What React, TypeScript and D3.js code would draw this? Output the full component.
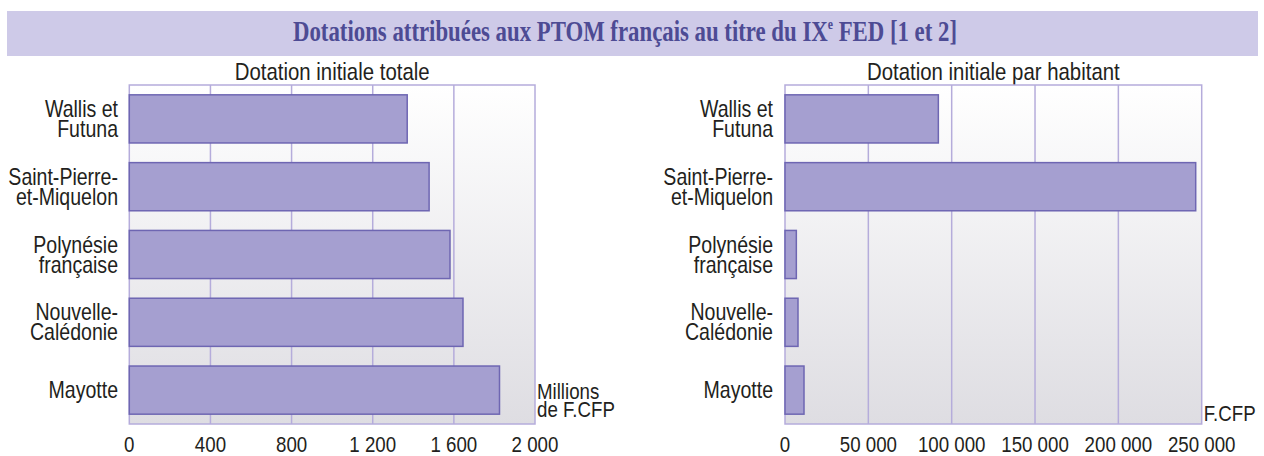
import React from 'react';
import * as d3 from 'd3';

const categories = ['Wallis et Futuna', 'Saint-Pierre-et-Miquelon', 'Polynésie française', 'Nouvelle-Calédonie', 'Mayotte'];
const categoryLines = [['Wallis et', 'Futuna'], ['Saint-Pierre-', 'et-Miquelon'], ['Polynésie', 'française'], ['Nouvelle-', 'Calédonie'], ['Mayotte']];
const totalValues = [1370, 1478, 1581, 1645, 1825]; // millions F.CFP
const perCapitaValues = [92000, 246400, 6800, 7800, 11400]; // F.CFP
const totalTicks = [0, 400, 800, 1200, 1600, 2000];
const perCapitaTicks = [0, 50000, 100000, 150000, 200000, 250000];

const W = 1264;
const H = 456;
const sans = '"Liberation Sans", Arial, sans-serif';
const squeeze = 0.85; // no Arial Narrow here, so squash Liberation Sans
const textColor = '#231f20';
const gridColor = '#b5acdb';
const barFill = '#a59fd0';
const barStroke = '#6e66b2';

const fmt = d3.formatLocale({ decimal: ',', thousands: ' ', grouping: [3], currency: ['', ''] }).format(',d');

// narrow text: lines drawn at (x, y) with line step
const NText: React.FC<{ x: number; y: number; lines: string[]; size: number; anchor?: string; step?: number }> =
  ({ x, y, lines, size, anchor = 'start', step = 20 }) => (
    <text transform={`translate(${x},${y}) scale(${squeeze},1)`} textAnchor={anchor} fontFamily={sans} fontSize={size} fill={textColor}>
      {lines.map((l, k) => <tspan key={k} x={0} y={k * step}>{l}</tspan>)}
    </text>
  );

interface PanelProps {
  id: string;
  x0: number;
  x1: number;
  values: number[];
  ticks: number[];
  subtitle: string;
  unit: string[];
  unitY: number;
  labelX: number;
}

const Panel: React.FC<PanelProps> = ({ id, x0, x1, values, ticks, subtitle, unit, unitY, labelX }) => {
  const top = 85;
  const bottom = 424;
  const x = d3.scaleLinear().domain([0, ticks[ticks.length - 1]]).range([x0, x1]);
  const y = d3.scaleBand<string>().domain(categories).range([top, bottom]).paddingInner(0.29).paddingOuter(0.145);
  return (
    <g>
      <defs>
        <linearGradient id={`bg-${id}`} x1="0" y1="0" x2="0" y2="1">
          <stop offset="0" stopColor="#ffffff" />
          <stop offset="1" stopColor="#dedde2" />
        </linearGradient>
      </defs>
      <NText x={(x0 + x1) / 2} y={80} lines={[subtitle]} size={24} anchor="middle" />
      <rect x={x0} y={top} width={x1 - x0} height={bottom - top} fill={`url(#bg-${id})`} stroke={gridColor} strokeWidth={1.5} />
      {ticks.slice(1, -1).map(t => (
        <line key={t} x1={x(t)} x2={x(t)} y1={top} y2={bottom} stroke={gridColor} strokeWidth={1.5} />
      ))}
      {categories.map((c, i) => (
        <rect key={c} x={x(0)} y={y(c)} width={x(values[i]) - x(0)} height={y.bandwidth()}
          fill={barFill} stroke={barStroke} strokeWidth={1.5} />
      ))}
      {categories.map((c, i) => {
        const cy = (y(c) as number) + y.bandwidth() / 2;
        const lines = categoryLines[i];
        const b0 = lines.length === 1 ? cy + 7.5 : cy - 2;
        return <NText key={c} x={labelX} y={b0} lines={lines} size={23} anchor="end" step={20} />;
      })}
      {ticks.map(t => (
        <NText key={t} x={x(t)} y={452} lines={[fmt(t)]} size={22} anchor="middle" />
      ))}
      <NText x={x1 + 2} y={unitY} lines={unit} size={22} step={18} />
    </g>
  );
};

export default function App() {
  return (
    <svg width={W} height={H} style={{ position: 'absolute', left: 0, top: 0, display: 'block', background: '#fff' }}>
      <rect x={7} y={11} width={1251} height={45} fill="#cecae8" />
      <text x={293} y={41} fontFamily='"Liberation Serif", "Times New Roman", serif' fontWeight="bold" fontSize={29}
        fill="#4d4b94" textLength={664} lengthAdjust="spacingAndGlyphs">
        Dotations attribuées aux PTOM français au titre du IX<tspan fontSize={15} dy={-12}>e</tspan><tspan dy={12}> FED [1 et 2]</tspan>
      </text>
      <Panel id="total" x0={129.3} x1={535} values={totalValues} ticks={totalTicks}
        subtitle="Dotation initiale totale" unit={['Millions', 'de F.CFP']} unitY={399} labelX={118} />
      <Panel id="hab" x0={785} x1={1201.7} values={perCapitaValues} ticks={perCapitaTicks}
        subtitle="Dotation initiale par habitant" unit={['F.CFP']} unitY={421} labelX={773} />
    </svg>
  );
}
